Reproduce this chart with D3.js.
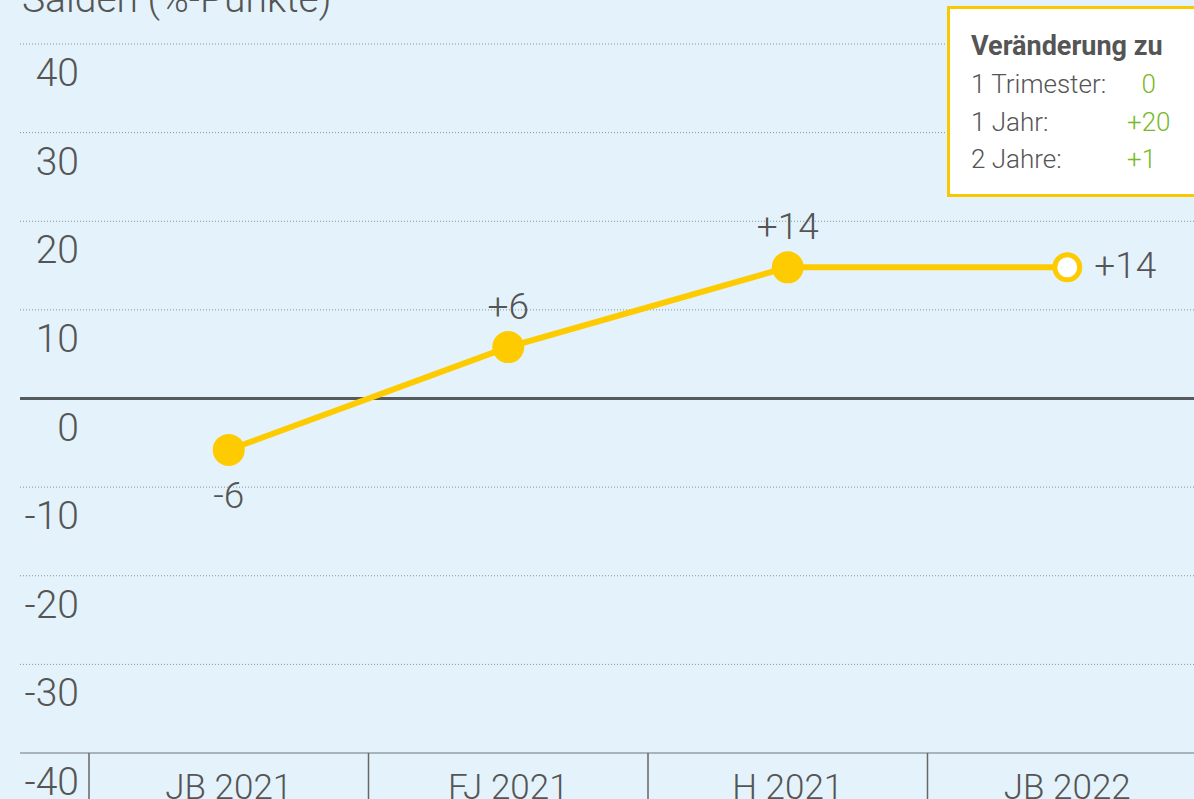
<!DOCTYPE html>
<html><head><meta charset="utf-8">
<script src="https://cdn.jsdelivr.net/npm/d3@7"></script>
<style>
html,body{margin:0;padding:0;background:#e4f3fb;overflow:hidden;}
svg{display:block;font-family:Roboto,"Noto Sans",sans-serif;}
</style></head><body>
<svg id="c" width="1194" height="799"></svg>
<script>
const categories = ["JB 2021","FJ 2021","H 2021","JB 2022"];
const values = [-5.8, 5.8, 14.8, 14.8];
const valueLabels = ["-6","+6","+14","+14"];
const yTicks = [40,30,20,10,0,-10,-20,-30,-40];
const yTickLabels = ["40","30","20","10","0","-10","-20","-30","-40"];
const legendTitle = "Veränderung zu";
const legendRows = ["1 Trimester:","1 Jahr:","2 Jahre:"];
const legendValues = ["\u20070","+20","+1"];
const axisTitle = "Salden (%-Punkte)";

const W = 1194, H = 799;
const svg = d3.select("#c");
const txt = "#555555", yellow = "#fecb00", green = "#7ab929";

svg.append("rect").attr("width",W).attr("height",H).attr("fill","#e4f3fb");

const x = d3.scaleBand().domain(categories).range([89, 89 + 4*279.5]).padding(0);
const y = d3.scaleLinear().domain([-40,40]).range([753,44]);

// gridlines
svg.append("g").selectAll("line").data(yTicks).join("line")
  .attr("x1",20).attr("x2",W)
  .attr("y1",d=>y(d)).attr("y2",d=>y(d))
  .attr("stroke", d=> d===0 ? "#555a5e" : (d===-40 ? "#a9b4ba" : "#8a9298"))
  .attr("stroke-width", d=> d===0 ? 3 : (d===-40 ? 2 : 1))
  .attr("stroke-dasharray", d=> (d===0||d===-40) ? null : "1,2");

// y labels
svg.append("g").selectAll("text").data(yTicks).join("text")
  .attr("x", 79).attr("y", d=>y(d)+42)
  .attr("text-anchor","end")
  .attr("font-size",39).attr("font-weight",300).attr("fill",txt)
  .text((d,i)=>yTickLabels[i]);

// axis title
svg.append("text").attr("x",22).attr("y",12)
  .attr("font-size",39).attr("font-weight",300).attr("fill",txt)
  .text(axisTitle);

// category dividers
svg.append("g").selectAll("line").data(categories).join("line")
  .attr("x1",d=>x(d)).attr("x2",d=>x(d))
  .attr("y1",y(-40)).attr("y2",H)
  .attr("stroke","#666").attr("stroke-width",1.5);

// category labels
svg.append("g").selectAll("text").data(categories).join("text")
  .attr("x",d=>x(d)+x.bandwidth()/2).attr("y",799)
  .attr("text-anchor","middle")
  .attr("font-size",35).attr("font-weight",300).attr("fill",txt)
  .text(d=>d);

// line
const pts = categories.map((c,i)=>({c, v:values[i], l:valueLabels[i], i}));
const cx = d=>x(d.c)+x.bandwidth()/2;
svg.append("path").datum(pts)
  .attr("d", d3.line().x(cx).y(d=>y(d.v)))
  .attr("fill","none").attr("stroke",yellow).attr("stroke-width",6);

// markers
svg.append("g").selectAll("circle").data(pts).join("circle")
  .attr("cx",cx).attr("cy",d=>y(d.v))
  .attr("r", d=> d.i===3 ? 12.5 : 16)
  .attr("fill", d=> d.i===3 ? "#ffffff" : yellow)
  .attr("stroke", d=> d.i===3 ? yellow : "none")
  .attr("stroke-width", 5);

// value labels
svg.append("g").selectAll("text").data(pts).join("text")
  .attr("x", d=> d.i===3 ? cx(d)+27 : cx(d))
  .attr("y", d=> d.i===3 ? y(d.v)+11 : (d.v<0 ? y(d.v)+58 : y(d.v)-28))
  .attr("text-anchor", d=> d.i===3 ? "start" : "middle")
  .attr("font-size",37).attr("font-weight",300).attr("fill",txt)
  .text(d=>d.l);

// legend box
const lg = svg.append("g");
lg.append("rect").attr("x",948.5).attr("y",7.5).attr("width",260).attr("height",188)
  .attr("fill","#ffffff").attr("stroke","#f8c800").attr("stroke-width",3);
lg.append("text").attr("x",971).attr("y",55)
  .attr("font-size",27).attr("font-weight",700).attr("fill",txt).text(legendTitle);
lg.selectAll("text.r").data(legendRows).join("text").attr("class","r")
  .attr("x",971).attr("y",(d,i)=>93+i*37.5)
  .attr("font-size",26).attr("font-weight",300).attr("fill",txt).text(d=>d);
lg.selectAll("text.v").data(legendValues).join("text").attr("class","v")
  .attr("x",1127).attr("y",(d,i)=>93+i*37.5)
  .attr("font-size",26).attr("font-weight",300).attr("fill",green).text(d=>d);
</script>
</body></html>
